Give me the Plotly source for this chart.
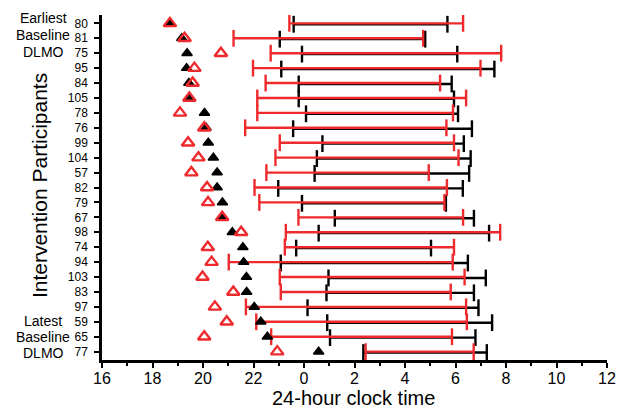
import plotly.graph_objects as go

# ---------------- data (clock times, hours) ----------------
participants = ["80", "81", "75", "95", "84", "105", "78", "76", "99", "104", "57", "82",
                "79", "67", "98", "74", "94", "103", "83", "97", "59", "65", "77"]

baseline_dlmo = [18.69, 19.16, 19.37, 19.35, 19.44, 19.46, 20.06, 20.12, 20.21, 20.41, 20.56, 20.56,
                 20.77, 20.76, 21.16, 21.58, 21.61, 21.72, 21.73, 22.03, 22.29, 22.55, 0.58]
post_dlmo = [18.69, 19.27, 20.71, 19.66, 19.59, 19.46, 19.09, 20.05, 19.41, 19.82, 19.54, 20.16,
             20.20, 20.76, 21.51, 20.19, 20.34, 19.98, 21.20, 20.47, 20.94, 20.05, 22.94]

black_start = [23.59, 23.04, 23.92, 23.10, 23.79, 23.79, 0.08, 23.57, 0.73, 0.51, 0.42, 22.98,
               23.92, 1.22, 0.58, 23.69, 23.08, 0.97, 0.89, 0.14, 0.92, 1.03, 2.35]
black_end = [5.68, 4.80, 6.07, 7.54, 5.85, 5.94, 6.10, 6.65, 6.33, 6.60, 6.54, 6.29,
             5.62, 6.73, 7.33, 5.03, 6.49, 7.20, 6.73, 6.91, 7.45, 6.79, 7.24]
red_start = [23.42, 21.21, 22.68, 21.98, 22.48, 22.15, 22.15, 21.67, 23.04, 22.87, 22.51, 22.04,
             22.23, 23.78, 23.28, 23.24, 21.02, 23.04, 23.08, 21.70, 22.11, 22.70, 2.44]
red_end = [6.30, 4.72, 7.81, 6.99, 5.39, 6.42, 5.90, 5.64, 5.94, 6.12, 4.94, 5.66,
           5.56, 6.30, 7.77, 5.94, 5.89, 6.36, 5.81, 6.42, 6.45, 5.86, 6.72]

x_tickvals = [16, 18, 20, 22, 24, 26, 28, 30, 32, 34, 36]
x_ticktext = ["16", "18", "20", "22", "0", "2", "4", "6", "8", "10", "12"]

RED = "#EE2A2D"
BLACK = "#000000"
SANS = "Liberation Sans, Arial, Helvetica, sans-serif"


def unwrap(t):
    return t + 24 if t < 15 else t


rows = list(range(len(participants)))


def seg_xy(starts, ends, offset):
    xs, ys = [], []
    for i, s, e in zip(rows, starts, ends):
        xs += [unwrap(s), unwrap(e), None]
        ys += [i + offset, i + offset, None]
    return xs, ys


def cap_xy(starts, ends, offset):
    xs, ys = [], []
    for i, s, e in zip(rows, starts, ends):
        xs += [unwrap(s), unwrap(e)]
        ys += [i + offset, i + offset]
    return xs, ys


fig = go.Figure()

BOFF = 0.06
bx, by = seg_xy(black_start, black_end, BOFF)
fig.add_trace(go.Scatter(x=bx, y=by, mode="lines", line=dict(color=BLACK, width=2.4),
                         hoverinfo="skip", showlegend=False))
cx, cy = cap_xy(black_start, black_end, BOFF)
fig.add_trace(go.Scatter(x=cx, y=cy, mode="markers",
                         marker=dict(symbol="line-ns", size=12, line=dict(color=BLACK, width=2.4)),
                         hoverinfo="skip", showlegend=False))

rx, ry = seg_xy(red_start, red_end, 0)
fig.add_trace(go.Scatter(x=rx, y=ry, mode="lines", line=dict(color=RED, width=2.4),
                         hoverinfo="skip", showlegend=False))
cx, cy = cap_xy(red_start, red_end, 0)
fig.add_trace(go.Scatter(x=cx, y=cy, mode="markers",
                         marker=dict(symbol="line-ns", size=12, line=dict(color=RED, width=2.4)),
                         hoverinfo="skip", showlegend=False))

fig.add_trace(go.Scatter(x=[unwrap(t) for t in baseline_dlmo], y=rows, mode="markers",
                         marker=dict(symbol="triangle-up", size=9, color=BLACK,
                                     line=dict(color=BLACK, width=1.5)),
                         showlegend=False))
fig.add_trace(go.Scatter(x=[unwrap(t) for t in post_dlmo], y=rows, mode="markers",
                         marker=dict(symbol="triangle-up-open", size=11, color=RED,
                                     line=dict(color=RED, width=2.4)),
                         showlegend=False))

fig.update_xaxes(range=[16, 36], tickvals=x_tickvals, ticktext=x_ticktext,
                 showline=True, linecolor=BLACK, linewidth=2.5, mirror=False,
                 ticks="outside", ticklen=5, tickwidth=2, tickcolor=BLACK,
                 minor=dict(tickvals=[17, 19, 21, 23, 25, 27, 29, 31, 33, 35], ticks="outside",
                            ticklen=3, tickwidth=2, tickcolor=BLACK),
                 showgrid=False, zeroline=False, ticklabelstandoff=-3,
                 tickfont=dict(family=SANS, size=16, color=BLACK))
fig.update_yaxes(range=[len(participants) - 1 + 0.56, -0.56], tickvals=rows, ticktext=participants,
                 showline=True, linecolor=BLACK, linewidth=2.5,
                 ticks="outside", ticklen=5, tickwidth=2, tickcolor=BLACK,
                 showgrid=False, zeroline=False, ticklabelstandoff=4,
                 tickfont=dict(family=SANS, size=12, color=BLACK))

fig.update_layout(
    width=628, height=408,
    margin=dict(l=102, r=12, t=15, b=48),
    paper_bgcolor="white", plot_bgcolor="white",
    showlegend=False,
)

plot_top, plot_bot = 15, 360
plot_left, plot_right = 102, 616


def py(pix):
    return (plot_bot - pix) / (plot_bot - plot_top)


def px(pix):
    return (pix - plot_left) / (plot_right - plot_left)


anns = [
    dict(text="24-hour clock time", x=px(358), y=py(398), xref="paper", yref="paper",
         showarrow=False, font=dict(family=SANS, size=20, color=BLACK),
         xanchor="center", yanchor="middle"),
    dict(text="Intervention Participants", x=px(38), y=py(186), xref="paper", yref="paper",
         showarrow=False, textangle=-90, font=dict(family=SANS, size=21, color=BLACK),
         xanchor="center", yanchor="middle"),
]
for txt, ypix in [("Earliest", 18), ("Baseline", 35), ("DLMO", 52),
                  ("Latest", 321), ("Baseline", 337), ("DLMO", 353)]:
    anns.append(dict(text=txt, x=px(42), y=py(ypix), xref="paper", yref="paper",
                     showarrow=False, font=dict(family=SANS, size=14, color=BLACK),
                     xanchor="center", yanchor="middle"))
fig.update_layout(annotations=anns)

fig.write_html("out.html")
